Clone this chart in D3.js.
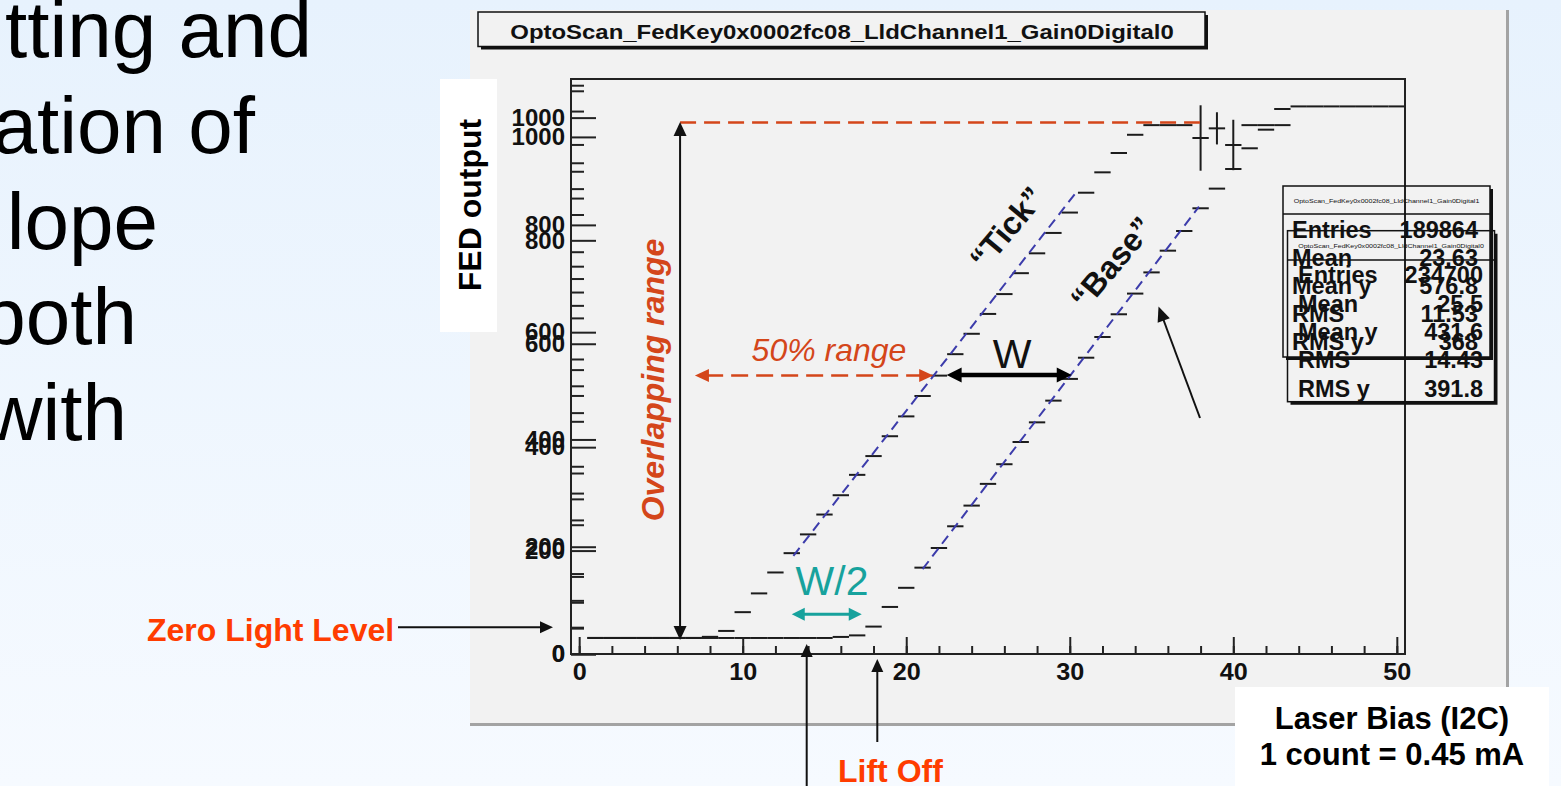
<!DOCTYPE html>
<html>
<head>
<meta charset="utf-8">
<script src="https://cdn.jsdelivr.net/npm/d3@7"></script>
<style>
  html, body { margin: 0; padding: 0; overflow: hidden; }
  body { width: 1561px; height: 786px; font-family: "Liberation Sans", Arial, sans-serif; }
</style>
</head>
<body>
<svg id="chart" width="1561" height="786"></svg>
<script>
// ---- data ----
// profile bins 0..50 (laser bias, I2C counts); null = empty bin
var tickValues = [null, 30, 30, 30, 30, 30, 30, 30, 32, 43,
    78, 113, 152, 188, 223, 260, 296, 334, 369, 406,
    443, 481, 519, 559, 597, 634, 671, 710, 747, 785,
    823, 860, 898, 934, 968, 986, 986, 986, 962, 980,
    949, 986, 986, 986, null, null, null, null, null, null, null];
var tickErrors = [[38, 61], [39, 30], [40, 47]];

var baseValues = [null, 31, 31, 31, 31, 31, 31, 31, 31, 31,
    31, 31, 31, 31, 31, 31, 33, 36, 53, 91,
    128, 167, 205, 247, 287, 329, 367, 410, 448, 490,
    532, 573, 613, 657, 697, 738, 780, 818, 862, 900,
    938, 978, 1014, 1054, 1059, 1059, 1059, 1059, 1059, 1059, 1059];

// straight line fits (bias, FED output)
var tickFit = [[13.1, 183], [30.4, 861]];
var baseFit = [[21.0, 164], [37.9, 865]];

var xTicks = [0, 10, 20, 30, 40, 50];
var yTicks = [0, 200, 400, 600, 800, 1000];

var tickStats = [["Entries", "189864"], ["Mean", "23.63"], ["Mean y", "576.8"], ["RMS", "11.53"], ["RMS y", "368"]];
var baseStats = [["Entries", "234700"], ["Mean", "25.5"], ["Mean y", "431.6"], ["RMS", "14.43"], ["RMS y", "391.8"]];

var plotTitle = "OptoScan_FedKey0x0002fc08_LldChannel1_Gain0Digital0";
var slideLines = ["tting and", "ation of", "lope", "both", "with"];

// ---- setup ----
var svg = d3.select("#chart"),
    width = +svg.attr("width"),
    height = +svg.attr("height");

var FONT = "'Liberation Sans', Arial, sans-serif";
var SX = 1.14; // the ROOT title is stretched sideways on the slide
var orange = "#d4461a", red = "#ff3c00", teal = "#17a29d", fitBlue = "#3c3cab";

var x = d3.scaleLinear().domain([-0.5, 50.5]).range([571, 1405]);
var yA = d3.scaleLinear().domain([0, 1072]).range([654, 79]);   // "Tick" histogram
var yB = d3.scaleLinear().domain([0, 1112]).range([654, 79]);   // "Base" histogram

var defs = svg.append("defs");
var grad = defs.append("linearGradient").attr("id", "bg")
    .attr("x1", 0).attr("y1", 0).attr("x2", 0).attr("y2", 1);
grad.append("stop").attr("offset", "0%").attr("stop-color", "#e7f2fd");
grad.append("stop").attr("offset", "100%").attr("stop-color", "#f6faff");
svg.append("rect").attr("width", width).attr("height", height).attr("fill", "url(#bg)");

// slide text cut at the left edge
var slideRight = [312, 255, 158, 137, 127];
svg.append("g").selectAll("text")
    .data(slideLines)
    .enter().append("text")
        .attr("x", function(d, i) { return slideRight[i]; })
        .attr("y", function(d, i) { return 57 + i * 95.75; })
        .attr("text-anchor", "end")
        .attr("font-family", FONT)
        .attr("font-size", 80)
        .attr("fill", "#000")
        .text(function(d) { return d; });

function stretchText(g, px, py, str, size, anchor, sx) {
    return g.append("text")
        .attr("transform", "translate(" + px + "," + py + ") scale(" + (sx || SX) + ",1)")
        .attr("text-anchor", anchor || "start")
        .attr("font-family", FONT)
        .attr("font-weight", "bold")
        .attr("font-size", size)
        .attr("fill", "#111")
        .text(str);
}

function pave(g, x0, y0, w, h) {
    g.append("rect").attr("x", x0).attr("y", y0).attr("width", w).attr("height", h)
        .attr("fill", "none").attr("stroke", "#111").attr("stroke-width", 1.5);
    g.append("path")
        .attr("d", "M" + (x0 + 3) + "," + (y0 + h + 1.5) + "H" + (x0 + w + 1.5) + "V" + (y0 + 3))
        .attr("fill", "none").attr("stroke", "#111").attr("stroke-width", 3);
}

// ---- ROOT canvas ----
var canvas = svg.append("g");
canvas.append("rect").attr("x", 470).attr("y", 10).attr("width", 1038).attr("height", 715)
    .attr("fill", "#f2f2f2");
canvas.append("path").attr("d", "M470,724.5H1507.5V10")
    .attr("fill", "none").attr("stroke", "#a3a3a3").attr("stroke-width", 3);

pave(canvas, 478, 12, 727, 34.5);
stretchText(canvas, 842, 38.5, plotTitle, 21, "middle");

// histograms (profile bins drawn as horizontal steps)
function drawProfile(values, yScale) {
    var pts = values.map(function(v, i) { return {bin: i, v: v}; })
        .filter(function(d) { return d.v !== null; });
    canvas.append("g").selectAll("line")
        .data(pts)
        .enter().append("line")
            .attr("x1", function(d) { return x(d.bin - 0.5); })
            .attr("x2", function(d) { return x(d.bin + 0.5); })
            .attr("y1", function(d) { return yScale(d.v); })
            .attr("y2", function(d) { return yScale(d.v); })
            .attr("stroke", "#1c1c1c")
            .attr("stroke-width", 2);
}
drawProfile(tickValues, yA);
drawProfile(baseValues, yB);

canvas.append("g").selectAll("line")
    .data(tickErrors)
    .enter().append("line")
        .attr("x1", function(d) { return x(d[0]); })
        .attr("x2", function(d) { return x(d[0]); })
        .attr("y1", function(d) { return yA(tickValues[d[0]] - d[1]); })
        .attr("y2", function(d) { return yA(tickValues[d[0]] + d[1]); })
        .attr("stroke", "#1c1c1c")
        .attr("stroke-width", 2);

// fits
var fitLine = function(yScale) {
    return d3.line().x(function(d) { return x(d[0]); }).y(function(d) { return yScale(d[1]); });
};
canvas.append("path").datum(tickFit).attr("d", fitLine(yA))
    .attr("fill", "none").attr("stroke", fitBlue).attr("stroke-width", 2).attr("stroke-dasharray", "10,6");
canvas.append("path").datum(baseFit).attr("d", fitLine(yB))
    .attr("fill", "none").attr("stroke", fitBlue).attr("stroke-width", 2).attr("stroke-dasharray", "10,6");

// frame
canvas.append("rect").attr("x", 571).attr("y", 79).attr("width", 834).attr("height", 575)
    .attr("fill", "none").attr("stroke", "#222").attr("stroke-width", 2);

function styleAxis(g) {
    g.select(".domain").remove();
    g.selectAll("line").attr("stroke", "#222").attr("stroke-width", 2);
    g.selectAll("text")
        .attr("font-family", FONT)
        .attr("font-weight", "bold")
        .attr("fill", "#111");
}

// both histograms carry their own y axis, drawn on top of each other
[yA, yB].forEach(function(ys) {
    var minor = d3.range(0, ys.domain()[1], 50).filter(function(v) { return v % 200 !== 0; });
    canvas.append("g").attr("transform", "translate(571,0)")
        .call(d3.axisLeft(ys).tickValues(minor).tickSizeInner(-13).tickSizeOuter(0).tickFormat(""))
        .call(styleAxis);
    var major = canvas.append("g").attr("transform", "translate(571,0)")
        .call(d3.axisLeft(ys).tickValues(yTicks).tickSizeInner(-25).tickSizeOuter(0).tickPadding(6)
            .tickFormat(d3.format("d")))
        .call(styleAxis);
    major.selectAll("text").attr("font-size", 24);
});

canvas.append("g").attr("transform", "translate(0,654)")
    .call(d3.axisBottom(x).tickValues(d3.range(0, 51, 2)).tickSizeInner(-8).tickSizeOuter(0).tickFormat(""))
    .call(styleAxis);
var xAxis = canvas.append("g").attr("transform", "translate(0,654)")
    .call(d3.axisBottom(x).tickValues(xTicks).tickSizeInner(-17).tickSizeOuter(0).tickPadding(9))
    .call(styleAxis);
xAxis.selectAll("text").attr("font-size", 24).attr("transform", "scale(1.05,1)");

// stats boxes
function statsBox(x0, y0, w, h, head, title, rows, labelX, valueX, firstRow, step) {
    var g = canvas.append("g");
    pave(g, x0, y0, w, h);
    g.append("line").attr("x1", x0).attr("x2", x0 + w).attr("y1", y0 + head).attr("y2", y0 + head)
        .attr("stroke", "#111").attr("stroke-width", 1.5);
    stretchText(g, x0 + w / 2, y0 + head / 2 + 2.5, title, 6.2, "middle").attr("font-weight", "normal");
    rows.forEach(function(r, i) {
        stretchText(g, labelX, firstRow + i * step, r[0], 23.5, "start", 1);
        stretchText(g, valueX, firstRow + i * step, r[1], 23.5, "end", 1);
    });
}
statsBox(1283, 186, 207, 171, 28, "OptoScan_FedKey0x0002fc08_LldChannel1_Gain0Digital1",
    tickStats, 1292, 1478, 238.3, 27.9);
statsBox(1287.5, 230.7, 207, 171, 29.3, "OptoScan_FedKey0x0002fc08_LldChannel1_Gain0Digital0",
    baseStats, 1298, 1483, 283.3, 28.35);

// ---- annotations ----
var notes = svg.append("g");

function head(g, px, py, ang, len, wid, color) {
    var bx = px - Math.cos(ang) * len, by = py - Math.sin(ang) * len;
    var ox = -Math.sin(ang) * wid / 2, oy = Math.cos(ang) * wid / 2;
    g.append("path")
        .attr("d", "M" + px + "," + py + "L" + (bx + ox) + "," + (by + oy) + "L" + (bx - ox) + "," + (by - oy) + "Z")
        .attr("fill", color);
}

function arrow(g, x1, y1, x2, y2, o) {
    var ang = Math.atan2(y2 - y1, x2 - x1);
    var len = o.len || 14, cut = len * 0.8;
    var sx = o.both ? x1 + Math.cos(ang) * cut : x1, sy = o.both ? y1 + Math.sin(ang) * cut : y1;
    g.append("line")
        .attr("x1", sx).attr("y1", sy)
        .attr("x2", x2 - Math.cos(ang) * cut).attr("y2", y2 - Math.sin(ang) * cut)
        .attr("stroke", o.color).attr("stroke-width", o.w)
        .attr("stroke-dasharray", o.dash || null);
    head(g, x2, y2, ang, len, o.wid || 12, o.color);
    if (o.both) head(g, x1, y1, ang + Math.PI, len, o.wid || 12, o.color);
}

// overlapping range
notes.append("line")
    .attr("x1", x(6.17)).attr("x2", x(37.96)).attr("y1", yA(991)).attr("y2", yA(991))
    .attr("stroke", orange).attr("stroke-width", 2.5).attr("stroke-dasharray", "16,8");
arrow(notes, x(6.17), yA(26), x(6.17), yA(992), {color: "#111", w: 2, both: true, len: 14, wid: 13});
notes.append("text")
    .attr("transform", "translate(664," + 380 + ") rotate(-90)")
    .attr("text-anchor", "middle")
    .attr("font-family", FONT).attr("font-weight", "bold").attr("font-style", "italic")
    .attr("font-size", 32).attr("fill", orange)
    .text("Overlapping range");

// 50% range and W
arrow(notes, x(7.08), yA(519), x(21.65), yA(519),
    {color: orange, w: 2.5, both: true, len: 14, wid: 13, dash: "17,8"});
notes.append("text").attr("x", 829).attr("y", 361)
    .attr("text-anchor", "middle")
    .attr("font-family", FONT).attr("font-style", "italic").attr("font-size", 32).attr("fill", orange)
    .text("50% range");
arrow(notes, x(22.47), yA(520), x(30.12), yA(520), {color: "#000", w: 4.5, both: true, len: 15, wid: 15});
notes.append("text").attr("x", 1012).attr("y", 368)
    .attr("text-anchor", "middle")
    .attr("font-family", FONT).attr("font-size", 41).attr("fill", "#111")
    .text("W");

// W/2
arrow(notes, x(13.0), yA(74), x(17.28), yA(74), {color: teal, w: 3, both: true, len: 13, wid: 13});
notes.append("text").attr("x", 832).attr("y", 595)
    .attr("text-anchor", "middle")
    .attr("font-family", FONT).attr("font-size", 41).attr("fill", teal)
    .text("W/2");

// curve names
[["\u201cTick\u201d", 1007, 228], ["\u201cBase\u201d", 1112, 263]].forEach(function(t) {
    notes.append("text")
        .attr("transform", "translate(" + t[1] + "," + t[2] + ") rotate(-50)")
        .attr("text-anchor", "middle").attr("dominant-baseline", "central")
        .attr("font-family", FONT).attr("font-weight", "bold").attr("font-size", 32).attr("fill", "#111")
        .text(t[0]);
});
arrow(notes, 1200, 418, 1158.5, 306.5, {color: "#111", w: 2, len: 15, wid: 13});

// zero light level
notes.append("text").attr("x", 147).attr("y", 641)
    .attr("font-family", FONT).attr("font-weight", "bold").attr("font-size", 32).attr("fill", red)
    .text("Zero Light Level");
arrow(notes, 398, 627.3, 553, 627.3, {color: "#111", w: 2, len: 13, wid: 12});

// lift off
arrow(notes, 877.3, 742, 877.3, 659, {color: "#111", w: 2, len: 13, wid: 12});
arrow(notes, 806.7, 800, 806.7, 644, {color: "#111", w: 2, len: 13, wid: 12});
notes.append("text").attr("x", 838).attr("y", 782)
    .attr("font-family", FONT).attr("font-weight", "bold").attr("font-size", 32).attr("fill", red)
    .text("Lift Off");

// axis captions in white boxes
notes.append("rect").attr("x", 440).attr("y", 79).attr("width", 57).attr("height", 253).attr("fill", "#fff");
notes.append("text")
    .attr("transform", "translate(481,205) rotate(-90)")
    .attr("text-anchor", "middle")
    .attr("font-family", FONT).attr("font-weight", "bold").attr("font-size", 32).attr("fill", "#000")
    .text("FED output");

notes.append("rect").attr("x", 1235).attr("y", 687).attr("width", 314).attr("height", 100).attr("fill", "#fff");
notes.append("text").attr("x", 1392).attr("y", 729)
    .attr("text-anchor", "middle")
    .attr("font-family", FONT).attr("font-weight", "bold").attr("font-size", 31).attr("fill", "#000")
    .text("Laser Bias (I2C)");
notes.append("text").attr("x", 1392).attr("y", 765)
    .attr("text-anchor", "middle")
    .attr("font-family", FONT).attr("font-weight", "bold").attr("font-size", 31).attr("fill", "#000")
    .text("1 count = 0.45 mA");
</script>
</body>
</html>
